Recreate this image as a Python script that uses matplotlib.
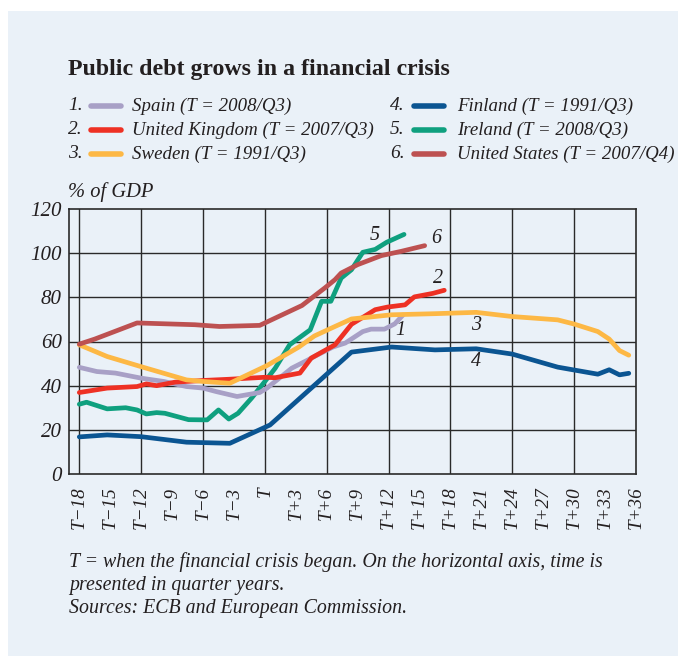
import matplotlib
matplotlib.use('Agg')
import matplotlib.pyplot as plt
from matplotlib.lines import Line2D
from matplotlib.patches import Rectangle

# Quarters relative to crisis start (T) and debt in % of GDP
spain_x = [-18, -16.3, -14.5, -12, -9.8, -7.6, -6, -4.7, -2.7, -0.5, 0.2, 2.6, 4.2, 4.8, 6.6, 7.8, 9.5, 10.3, 11.6, 12.6, 13.4]
spain_y = [48.3, 46.4, 45.7, 43.4, 41.9, 39.6, 38.9, 37.3, 35.1, 36.9, 38.9, 47.9, 51.7, 53.2, 57.5, 59.3, 64.5, 65.6, 65.6, 68.0, 72.0]

uk_x = [-18, -15.3, -12.4, -11.5, -10.5, -8.7, -5.8, -3.5, 0, 1, 3.4, 4.5, 6.8, 8.4, 9.7, 10.7, 11.9, 13.6, 14.5, 16.3, 17.4]
uk_y = [36.9, 38.9, 39.6, 40.8, 40.0, 41.6, 42.4, 42.9, 43.8, 43.6, 45.7, 52.5, 58.5, 67.8, 71.5, 74.4, 75.6, 76.6, 80.2, 81.8, 83.2]

sweden_x = [-18, -15.3, -12, -7.6, -6, -3.4, 0.2, 3.3, 4.8, 6.8, 8.4, 12.3, 16.5, 20.5, 24, 28.4, 30, 32.3, 33.4, 34.4, 35.3]
sweden_y = [58.5, 53.2, 48.6, 42.6, 41.9, 41.1, 49.1, 57.5, 62.5, 66.8, 70.2, 72.1, 72.6, 73.2, 71.3, 69.8, 67.9, 64.5, 61.1, 55.9, 53.8]

finland_x = [-18, -15.3, -12, -7.6, -3.4, 0.5, 8.4, 12.3, 16.5, 20.5, 24, 28.4, 32.3, 33.4, 34.4, 35.3]
finland_y = [16.8, 17.7, 16.9, 14.4, 13.9, 22.2, 55.2, 57.5, 56.2, 56.7, 54.3, 48.4, 45.2, 47.2, 44.9, 45.6]

ireland_x = [-18, -17.3, -15.3, -13.5, -12.4, -11.5, -10.5, -9.7, -7.4, -5.6, -4.5, -3.5, -2.6, -1.3, 0, 1,
             2.4, 4.4, 5.5, 6.4, 7.4, 8.4, 9.5, 10.7, 11.8, 13.5]
ireland_y = [31.6, 32.5, 29.5, 30.0, 29.0, 27.2, 27.8, 27.5, 24.6, 24.5, 29.0, 24.9, 27.5, 34.3, 41.9, 47.9,
             58.5, 65.3, 78.2, 78.2, 88.7, 92.5, 100.4, 101.7, 104.9, 108.5]

us_x = [-18, -16.5, -12.4, -6.8, -4.4, -0.5, 3.6, 5.8, 6.8, 7.4, 9, 11.3, 13.2, 15.5]
us_y = [58.8, 61.1, 68.4, 67.6, 66.8, 67.3, 76.3, 84.2, 88.0, 91.0, 94.8, 98.9, 100.8, 103.4]

names = ['Spain (T = 2008/Q3)', 'United Kingdom (T = 2007/Q3)', 'Sweden (T = 1991/Q3)',
         'Finland (T = 1991/Q3)', 'Ireland (T = 2008/Q3)', 'United States (T = 2007/Q4)']
colors = ['#a8a0c6', '#ee3124', '#fdb845', '#0b5592', '#0fa07f', '#bd5151']

# where the numbers sit next to the lines
label_x = [13.1, 16.8, 20.5, 20.5, 10.7, 16.6]
label_y = [65.2, 88.4, 67.1, 51.0, 107.8, 106.5]

tick_q = list(range(-18, 37, 3))
tick_labels = ['T' if q == 0 else ('T+%d' % q if q > 0 else 'T\u2212%d' % -q) for q in tick_q]

BG = '#eaf1f8'
INK = '#231f20'
W, H = 678, 656


def fx(px):
    return px / W


def fy(py):
    return 1 - py / H


plt.rcParams['font.family'] = ['Liberation Serif', 'DejaVu Serif']

fig = plt.figure(figsize=(6.78, 6.56), dpi=100)
fig.patch.set_facecolor('white')
fig.add_artist(Rectangle((fx(8), 0), 1, fy(11), transform=fig.transFigure,
                         facecolor=BG, edgecolor='none', zorder=0))

ax = fig.add_axes([fx(69), fy(474), fx(636) - fx(69), fy(209) - fy(474)])
ax.set_facecolor(BG)

series = [(spain_x, spain_y), (uk_x, uk_y), (sweden_x, sweden_y),
          (finland_x, finland_y), (ireland_x, ireland_y), (us_x, us_y)]
# draw order roughly as in the original
for i in [3, 4, 0, 1, 2, 5]:
    xs, ys = series[i]
    ax.plot(xs, ys, color=colors[i], lw=3.4, solid_capstyle='round',
            solid_joinstyle='round', zorder=3)

for i in range(6):
    ax.text(label_x[i], label_y[i], str(i + 1), fontsize=14.5, style='italic',
            color=INK, ha='center', va='center', zorder=4)

ax.set_xlim(-19, 36)
ax.set_ylim(0, 120)
for q in range(-18, 36, 6):
    ax.axvline(q, color='#2a2a2a', lw=1.0, zorder=1)
for v in range(20, 120, 20):
    ax.axhline(v, color='#2a2a2a', lw=1.0, zorder=1)
for s in ax.spines.values():
    s.set_color('#2a2a2a')
    s.set_linewidth(1.2)

ax.set_xticks(tick_q)
ax.set_xticklabels(tick_labels, rotation=90, fontsize=13.8, style='italic', color=INK)
ax.set_yticks(range(0, 121, 20))
ax.set_yticklabels([str(v) for v in range(0, 121, 20)], fontsize=15, style='italic', color=INK)
ax.tick_params(axis='x', length=0, pad=9)
ax.tick_params(axis='y', length=0, pad=5)

# title, legend, unit
fig.text(fx(68), fy(75), 'Public debt grows in a financial crisis', fontsize=17.2,
         weight='bold', color=INK, va='baseline')

rows = [106, 130, 154]
cols = [(68, 91, 121, 132), (390, 414, 444, 457)]
for i in range(6):
    c = cols[i // 3]
    r = rows[i % 3]
    fig.text(fx(c[0]), fy(r), '%d.' % (i + 1), fontsize=14, style='italic',
             color=INK, va='center')
    fig.add_artist(Line2D([fx(c[1]), fx(c[2])], [fy(r), fy(r)], transform=fig.transFigure,
                          color=colors[i], lw=4, solid_capstyle='round'))
    fig.text(fx(c[3]), fy(r), names[i], fontsize=13.6, style='italic', color=INK, va='center')

fig.text(fx(68), fy(192), '% of GDP', fontsize=14.8, style='italic', color=INK, va='center')

notes = ['T = when the financial crisis began. On the horizontal axis, time is',
         'presented in quarter years.',
         'Sources: ECB and European Commission.']
for k, line in enumerate(notes):
    fig.text(fx(69), fy(562 + 23.5 * k), line, fontsize=14.3, style='italic',
             color=INK, va='center')

fig.savefig('out.png', dpi=100, facecolor=fig.get_facecolor())
